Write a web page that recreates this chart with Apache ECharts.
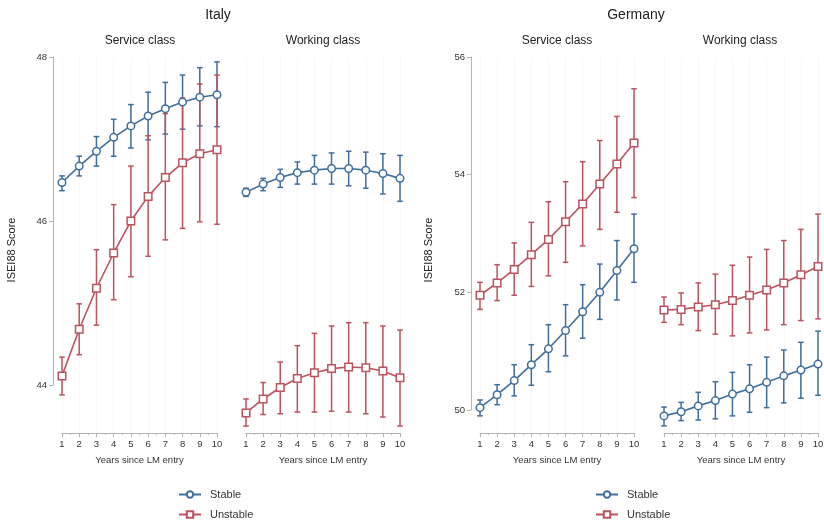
<!DOCTYPE html>
<html>
<head>
<meta charset="utf-8">
<title>ISEI88 Score by years since labour market entry</title>
<script src="https://cdn.jsdelivr.net/npm/echarts@6/dist/echarts.min.js"></script>
<style>
  html, body { margin: 0; padding: 0; background: #fff; }
  #chart { width: 824px; height: 523px; }
</style>
</head>
<body>
<div id="chart"></div>
<script>
// Years since labour-market entry
const years = [1, 2, 3, 4, 5, 6, 7, 8, 9, 10];

// Y-axis tick values per country
const italyTicks = [44, 46, 48];
const germanyTicks = [50, 52, 54, 56];

// Italy – service class
const itServiceStable   = [46.47, 46.67, 46.85, 47.02, 47.16, 47.28, 47.37, 47.45, 47.51, 47.54];
const itServiceStableLo = [46.37, 46.55, 46.67, 46.79, 46.89, 46.99, 47.06, 47.12, 47.16, 47.15];
const itServiceStableHi = [46.55, 46.79, 47.03, 47.24, 47.42, 47.57, 47.69, 47.78, 47.87, 47.94];
const itServiceUnstable   = [44.11, 44.68, 45.18, 45.61, 46.00, 46.30, 46.53, 46.71, 46.82, 46.87];
const itServiceUnstableLo = [43.88, 44.37, 44.73, 45.04, 45.32, 45.57, 45.77, 45.91, 45.99, 45.96];
const itServiceUnstableHi = [44.34, 44.99, 45.65, 46.20, 46.67, 47.04, 47.31, 47.50, 47.67, 47.78];

// Italy – working class
const itWorkingStable   = [46.35, 46.45, 46.53, 46.59, 46.62, 46.64, 46.64, 46.62, 46.58, 46.52];
const itWorkingStableLo = [46.30, 46.37, 46.41, 46.45, 46.45, 46.45, 46.43, 46.40, 46.33, 46.24];
const itWorkingStableHi = [46.40, 46.52, 46.63, 46.72, 46.80, 46.83, 46.85, 46.84, 46.82, 46.80];
const itWorkingUnstable   = [43.66, 43.83, 43.97, 44.08, 44.15, 44.20, 44.22, 44.21, 44.17, 44.09];
const itWorkingUnstableLo = [43.50, 43.64, 43.65, 43.67, 43.67, 43.68, 43.67, 43.65, 43.61, 43.50];
const itWorkingUnstableHi = [43.83, 44.03, 44.28, 44.48, 44.63, 44.72, 44.76, 44.76, 44.72, 44.67];

// Germany – service class
const deServiceStable   = [50.04, 50.26, 50.50, 50.77, 51.04, 51.35, 51.67, 52.00, 52.37, 52.74];
const deServiceStableLo = [49.90, 50.09, 50.24, 50.42, 50.65, 50.92, 51.22, 51.54, 51.87, 52.17];
const deServiceStableHi = [50.17, 50.43, 50.77, 51.11, 51.45, 51.79, 52.13, 52.48, 52.88, 53.33];
const deServiceUnstable   = [51.95, 52.16, 52.39, 52.64, 52.90, 53.20, 53.50, 53.84, 54.18, 54.54];
const deServiceUnstableLo = [51.71, 51.86, 51.95, 52.10, 52.28, 52.51, 52.79, 53.07, 53.36, 53.61];
const deServiceUnstableHi = [52.17, 52.47, 52.84, 53.19, 53.54, 53.88, 54.22, 54.58, 54.99, 55.46];

// Germany – working class
const deWorkingStable   = [49.90, 49.97, 50.07, 50.16, 50.27, 50.36, 50.47, 50.58, 50.68, 50.78];
const deWorkingStableLo = [49.73, 49.82, 49.83, 49.85, 49.90, 49.96, 50.04, 50.12, 50.20, 50.25];
const deWorkingStableHi = [50.05, 50.13, 50.30, 50.48, 50.64, 50.77, 50.90, 51.02, 51.15, 51.34];
const deWorkingUnstable   = [51.70, 51.71, 51.75, 51.79, 51.86, 51.95, 52.04, 52.16, 52.30, 52.44];
const deWorkingUnstableLo = [51.49, 51.45, 51.35, 51.29, 51.26, 51.31, 51.36, 51.45, 51.52, 51.55];
const deWorkingUnstableHi = [51.92, 51.99, 52.16, 52.31, 52.46, 52.60, 52.73, 52.88, 53.07, 53.33];

const BLUE = '#3f6e9b';
const RED = '#ba535e';
const AXIS = '#b4b4b4';
const TEXT = '#333';
const FONT = '"Liberation Sans", Arial, Helvetica, sans-serif';

// Plot geometry (pixels)
const plotTop = 57;
const plotHeight = 376;
// Data axes extend a little below the lowest labelled tick
const italyRange = [43.415, 48];
const germanyRange = [49.609, 56];

const panels = [
  { left: 62,  width: 155, range: italyRange,
    stable: [itServiceStable, itServiceStableLo, itServiceStableHi],
    unstable: [itServiceUnstable, itServiceUnstableLo, itServiceUnstableHi] },
  { left: 246, width: 154, range: italyRange,
    stable: [itWorkingStable, itWorkingStableLo, itWorkingStableHi],
    unstable: [itWorkingUnstable, itWorkingUnstableLo, itWorkingUnstableHi] },
  { left: 480, width: 154, range: germanyRange,
    stable: [deServiceStable, deServiceStableLo, deServiceStableHi],
    unstable: [deServiceUnstable, deServiceUnstableLo, deServiceUnstableHi] },
  { left: 664, width: 154, range: germanyRange,
    stable: [deWorkingStable, deWorkingStableLo, deWorkingStableHi],
    unstable: [deWorkingUnstable, deWorkingUnstableLo, deWorkingUnstableHi] }
];

function rangePx(range, ticks) {
  // pixel span of the labelled part of the axis
  const perUnit = plotHeight / (range[1] - range[0]);
  return (ticks[ticks.length - 1] - ticks[0]) * perUnit;
}

const grid = panels.map(p => ({
  left: p.left, top: plotTop, width: p.width, height: plotHeight,
  outerBoundsMode: 'none'
}));
// Narrow grids that only carry the visible y axes
grid.push({ left: 53, top: plotTop, width: 1, height: rangePx(italyRange, italyTicks), outerBoundsMode: 'none' });
grid.push({ left: 471, top: plotTop, width: 1, height: rangePx(germanyRange, germanyTicks), outerBoundsMode: 'none' });

const xAxis = panels.map((p, i) => ({
  type: 'value', gridIndex: i, min: years[0], max: years[years.length - 1], interval: 1,
  axisLine: { show: true, onZero: false, lineStyle: { color: AXIS, width: 1 } },
  axisTick: { show: true, length: 4, lineStyle: { color: AXIS } },
  minorTick: { show: true, splitNumber: 2, length: 2, lineStyle: { color: AXIS } },
  splitLine: { show: true, lineStyle: { color: '#f7f7f7', width: 1 } },
  axisLabel: { fontSize: 9.5, color: TEXT, fontFamily: FONT, margin: 6 },
  name: 'Years since LM entry', nameLocation: 'middle', nameGap: 22,
  nameTextStyle: { fontSize: 9.5, color: TEXT, fontFamily: FONT }
}));
xAxis.push({ type: 'value', gridIndex: 4, show: false, min: 0, max: 1 });
xAxis.push({ type: 'value', gridIndex: 5, show: false, min: 0, max: 1 });

const yAxis = panels.map((p, i) => ({
  type: 'value', gridIndex: i, min: p.range[0], max: p.range[1], show: false
}));
function labelledY(gridIndex, ticks) {
  return {
    type: 'value', gridIndex, position: 'left',
    min: ticks[0], max: ticks[ticks.length - 1], interval: ticks[1] - ticks[0],
    axisLine: { show: true, lineStyle: { color: AXIS, width: 1 } },
    axisTick: { show: true, length: 4, lineStyle: { color: AXIS } },
    splitLine: { show: false },
    axisLabel: { fontSize: 9.5, color: TEXT, fontFamily: FONT, margin: 6 }
  };
}
yAxis.push(labelledY(4, italyTicks));
yAxis.push(labelledY(5, germanyTicks));

function errorBars(idx, triple, color) {
  const [, lo, hi] = triple;
  return {
    type: 'custom', xAxisIndex: idx, yAxisIndex: idx, z: 2, silent: true,
    clip: false,
    data: years.map((x, k) => [x, lo[k], hi[k]]),
    renderItem(params, api) {
      const x = api.value(0);
      const a = api.coord([x, api.value(1)]);
      const b = api.coord([x, api.value(2)]);
      const cap = 2.8;
      const style = { stroke: color, lineWidth: 1.5 };
      return {
        type: 'group',
        children: [
          { type: 'line', shape: { x1: a[0], y1: a[1], x2: b[0], y2: b[1] }, style },
          { type: 'line', shape: { x1: a[0] - cap, y1: a[1], x2: a[0] + cap, y2: a[1] }, style },
          { type: 'line', shape: { x1: b[0] - cap, y1: b[1], x2: b[0] + cap, y2: b[1] }, style }
        ]
      };
    }
  };
}
function meanLine(idx, name, values, color, symbol) {
  return {
    type: 'line', name, xAxisIndex: idx, yAxisIndex: idx, z: 3,
    data: years.map((x, k) => [x, values[k]]),
    symbol, symbolSize: 7.5, showSymbol: true, clip: false,
    lineStyle: { color, width: 1.6 },
    itemStyle: { color: '#fff', borderColor: color, borderWidth: 1.5 },
    emphasis: { disabled: true }
  };
}

const series = [];
panels.forEach((p, i) => {
  series.push(errorBars(i, p.stable, BLUE));
  series.push(errorBars(i, p.unstable, RED));
  series.push(meanLine(i, 'Stable', p.stable[0], BLUE, 'circle'));
  series.push(meanLine(i, 'Unstable', p.unstable[0], RED, 'rect'));
});

// One legend entry per component so each sits on its own row
function legendItem(left, top, name) {
  return {
    left, top, itemWidth: 22, itemHeight: 8, selectedMode: false,
    padding: 0, data: [name],
    textStyle: { fontSize: 11, color: TEXT, fontFamily: FONT, padding: [0, 0, 0, 4] }
  };
}

function txt(x, y, text, size, extra) {
  return Object.assign({
    type: 'text', x, y,
    style: { text, fontSize: size, fill: '#222', fontFamily: FONT, align: 'center', verticalAlign: 'middle' }
  }, extra || {});
}

const graphic = [
  txt(218, 15, 'Italy', 14),
  txt(636, 15, 'Germany', 14),
  txt(140, 41, 'Service class', 12),
  txt(323, 41, 'Working class', 12),
  txt(557, 41, 'Service class', 12),
  txt(740, 41, 'Working class', 12),
  txt(12, 250, 'ISEI88 Score', 11, { rotation: Math.PI / 2 }),
  txt(429, 250, 'ISEI88 Score', 11, { rotation: Math.PI / 2 })
];

const chart = echarts.init(document.getElementById('chart'), null, { renderer: 'canvas' });
chart.setOption({
  backgroundColor: '#fff',
  animation: false,
  textStyle: { fontFamily: FONT },
  grid, xAxis, yAxis, series,
  legend: [
    legendItem(178, 489, 'Stable'),
    legendItem(178, 509, 'Unstable'),
    legendItem(595, 489, 'Stable'),
    legendItem(595, 509, 'Unstable')
  ],
  graphic
});
</script>
</body>
</html>
